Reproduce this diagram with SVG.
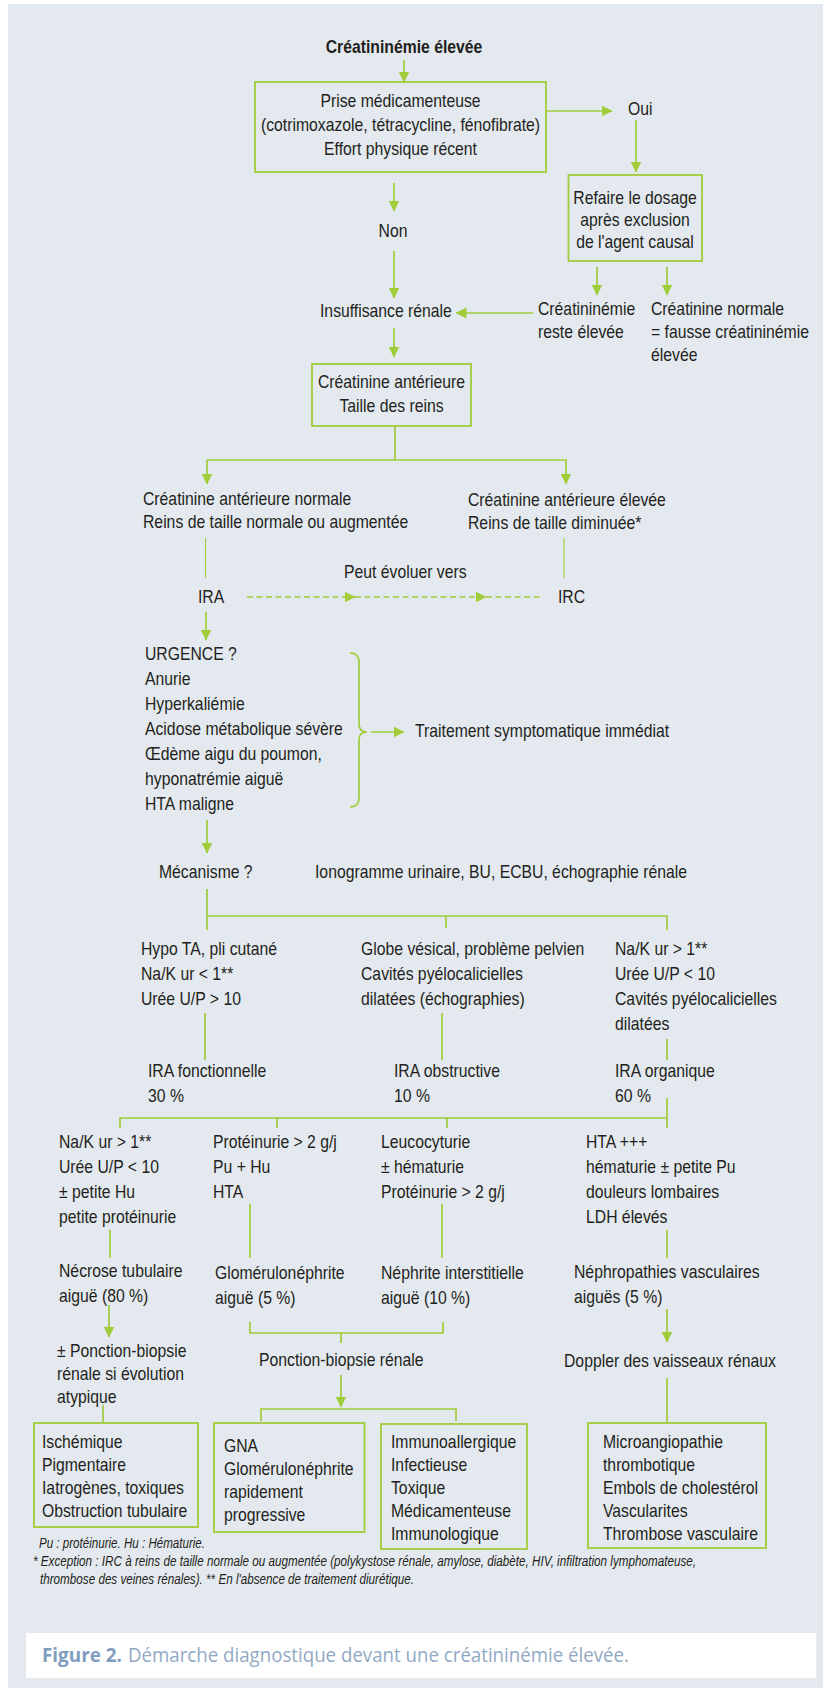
<svg xmlns="http://www.w3.org/2000/svg" width="823" height="1688" viewBox="0 0 823 1688">
<style>
.t{font-family:"Liberation Sans",Arial,sans-serif;font-size:18px;fill:#231f20}
.m{text-anchor:middle}
.b{font-weight:bold}
.fn{font-family:"Liberation Sans",Arial,sans-serif;font-size:14px;font-style:italic;fill:#231f20}
.box{fill:none;stroke:#a0cc3a;stroke-width:1.8}
.ln{fill:none;stroke:#a0cc3a;stroke-width:1.7}
.thin{fill:none;stroke:#a0cc3a;stroke-width:1.1}
.ar{fill:none;stroke:#a0cc3a;stroke-width:1.7;marker-end:url(#ah)}
.da{fill:none;stroke:#a0cc3a;stroke-width:1.5;stroke-dasharray:6 3.5}
.cap{font-family:"Open Sans","Liberation Sans",sans-serif;font-size:20px}
</style>
<defs>
<marker id="ah" viewBox="0 0 11 11" markerWidth="11" markerHeight="11" markerUnits="userSpaceOnUse" refX="10.5" refY="5.5" orient="auto">
<path d="M0,0 L11,5.5 L0,11 Z" fill="#a0cc3a"/>
</marker>
</defs>
<rect x="0" y="0" width="823" height="1688" fill="#ffffff"/>
<rect x="8" y="4" width="815" height="1684" fill="#e3e9ef"/>

<g id="connectors">
<path class="ar" d="M404,60 V82"/>
<path class="ar" d="M546,111 H612"/>
<path class="ar" d="M636,120 V172"/>
<path class="ar" d="M394,183 V211"/>
<path class="ar" d="M394,251 V298"/>
<path class="ar" d="M597,267 V295"/>
<path class="ar" d="M667,267 V295"/>
<path class="ar" d="M533,313 H456"/>
<path class="ar" d="M394,328 V357"/>
<path class="ln" d="M395,426 V460"/>
<path class="ar" d="M207,460 H566 V484"/>
<path class="ar" d="M207,460 V484"/>
<path class="thin" d="M205.5,538 V578"/>
<path class="thin" d="M564,538 V578"/>
<path class="da" d="M247,597 H355" marker-end="url(#ah)"/>
<path class="da" d="M355,597 H486" marker-end="url(#ah)"/>
<path class="da" d="M486,597 H543"/>
<path class="ar" d="M206,612 V640"/>
<path class="ln" d="M350,653 C356,653 359,656 359,662 L359,724 C359,729 362,732 367,732 C362,732 359,735 359,740 L359,798 C359,804 356,807 350,807"/>
<path class="ar" d="M371,732 H404"/>
<path class="ar" d="M207,820 V853"/>
<path class="ln" d="M207,889 V930 M207,916 H667 V930 M446,916 V928"/>
<path class="ln" d="M205,1013 V1060 M442,1013 V1060 M667,1039 V1060"/>
<path class="ln" d="M667,1098 V1128 M120,1128 V1118 H667 M277,1118 V1128 M447,1118 V1128"/>
<path class="ln" d="M110,1230 V1258 M250,1204 V1258 M442,1204 V1258 M667,1230 V1258"/>
<path class="ar" d="M109,1305 V1337"/>
<path class="ln" d="M103,1405 V1423"/>
<path class="ln" d="M250,1322 V1333 H443 V1322 M341,1333 V1343"/>
<path class="ar" d="M341,1375 V1407"/>
<path class="ln" d="M261,1421 V1409 H456 V1421"/>
<path class="ar" d="M667,1309 V1342"/>
<path class="ln" d="M667,1378 V1423"/>
</g>

<g id="n-title"><text class="t m b" transform="translate(404 53) scale(.875 1)">Créatininémie élevée</text></g>

<g id="n-prise">
<rect class="box" x="255" y="82" width="291" height="90"/>
<text class="t m" transform="translate(400.5 107) scale(.875 1)">Prise médicamenteuse<tspan x="0" dy="24">(cotrimoxazole, tétracycline, fénofibrate)</tspan><tspan x="0" dy="24">Effort physique récent</tspan></text>
</g>

<g id="n-oui"><text class="t" transform="translate(628 115) scale(.875 1)">Oui</text></g>

<g id="n-refaire">
<rect class="box" x="568.5" y="175" width="133.5" height="86"/>
<text class="t m" transform="translate(635 203.5) scale(.875 1)">Refaire le dosage<tspan x="0" dy="22.5">après exclusion</tspan><tspan x="0" dy="22.5">de l'agent causal</tspan></text>
</g>

<g id="n-non"><text class="t m" transform="translate(393 237) scale(.875 1)">Non</text></g>

<g id="n-insuffisance"><text class="t" transform="translate(320 317) scale(.875 1)">Insuffisance rénale</text></g>

<g id="n-reste"><text class="t" transform="translate(538 315) scale(.875 1)">Créatininémie<tspan x="0" dy="23">reste élevée</tspan></text></g>

<g id="n-normale"><text class="t" transform="translate(651 315) scale(.875 1)">Créatinine normale<tspan x="0" dy="23">= fausse créatininémie</tspan><tspan x="0" dy="23">élevée</tspan></text></g>

<g id="n-anterieure">
<rect class="box" x="312" y="364" width="159" height="62"/>
<text class="t m" transform="translate(391.5 388) scale(.875 1)">Créatinine antérieure<tspan x="0" dy="24">Taille des reins</tspan></text>
</g>

<g id="n-ant-normale"><text class="t" transform="translate(143 505) scale(.875 1)">Créatinine antérieure normale<tspan x="0" dy="23">Reins de taille normale ou augmentée</tspan></text></g>

<g id="n-ant-elevee"><text class="t" transform="translate(468 506) scale(.875 1)">Créatinine antérieure élevée<tspan x="0" dy="23">Reins de taille diminuée*</tspan></text></g>

<g id="n-peut"><text class="t" transform="translate(344 578) scale(.875 1)">Peut évoluer vers</text></g>
<g id="n-ira"><text class="t" transform="translate(198 603) scale(.875 1)">IRA</text></g>
<g id="n-irc"><text class="t" transform="translate(558 603) scale(.875 1)">IRC</text></g>

<g id="n-urgence"><text class="t" transform="translate(145 660) scale(.875 1)">URGENCE ?<tspan x="0" dy="25">Anurie</tspan><tspan x="0" dy="25">Hyperkaliémie</tspan><tspan x="0" dy="25">Acidose métabolique sévère</tspan><tspan x="0" dy="25">Œdème aigu du poumon,</tspan><tspan x="0" dy="25">hyponatrémie aiguë</tspan><tspan x="0" dy="25">HTA maligne</tspan></text></g>

<g id="n-traitement"><text class="t" transform="translate(415 737) scale(.875 1)">Traitement symptomatique immédiat</text></g>

<g id="n-mecanisme"><text class="t" transform="translate(159 878) scale(.875 1)">Mécanisme ?</text></g>
<g id="n-ionogramme"><text class="t" transform="translate(315 878) scale(.875 1)">Ionogramme urinaire, BU, ECBU, échographie rénale</text></g>

<g id="n-hypo"><text class="t" transform="translate(141 955) scale(.875 1)">Hypo TA, pli cutané<tspan x="0" dy="25">Na/K ur &lt; 1**</tspan><tspan x="0" dy="25">Urée U/P &gt; 10</tspan></text></g>
<g id="n-globe"><text class="t" transform="translate(361 955) scale(.875 1)">Globe vésical, problème pelvien<tspan x="0" dy="25">Cavités pyélocalicielles</tspan><tspan x="0" dy="25">dilatées (échographies)</tspan></text></g>
<g id="n-nak"><text class="t" transform="translate(615 955) scale(.875 1)">Na/K ur &gt; 1**<tspan x="0" dy="25">Urée U/P &lt; 10</tspan><tspan x="0" dy="25">Cavités pyélocalicielles</tspan><tspan x="0" dy="25">dilatées</tspan></text></g>

<g id="n-ira-fonc"><text class="t" transform="translate(148 1077) scale(.875 1)">IRA fonctionnelle<tspan x="0" dy="25">30 %</tspan></text></g>
<g id="n-ira-obs"><text class="t" transform="translate(394 1077) scale(.875 1)">IRA obstructive<tspan x="0" dy="25">10 %</tspan></text></g>
<g id="n-ira-org"><text class="t" transform="translate(615 1077) scale(.875 1)">IRA organique<tspan x="0" dy="25">60 %</tspan></text></g>

<g id="n-crit-ntA"><text class="t" transform="translate(59 1148) scale(.875 1)">Na/K ur &gt; 1**<tspan x="0" dy="25">Urée U/P &lt; 10</tspan><tspan x="0" dy="25">± petite Hu</tspan><tspan x="0" dy="25">petite protéinurie</tspan></text></g>
<g id="n-crit-gn"><text class="t" transform="translate(213 1148) scale(.875 1)">Protéinurie &gt; 2 g/j<tspan x="0" dy="25">Pu + Hu</tspan><tspan x="0" dy="25">HTA</tspan></text></g>
<g id="n-crit-ni"><text class="t" transform="translate(381 1148) scale(.875 1)">Leucocyturie<tspan x="0" dy="25">± hématurie</tspan><tspan x="0" dy="25">Protéinurie &gt; 2 g/j</tspan></text></g>
<g id="n-crit-vasc"><text class="t" transform="translate(586 1148) scale(.875 1)">HTA +++<tspan x="0" dy="25">hématurie ± petite Pu</tspan><tspan x="0" dy="25">douleurs lombaires</tspan><tspan x="0" dy="25">LDH élevés</tspan></text></g>

<g id="n-necrose"><text class="t" transform="translate(59 1277) scale(.875 1)">Nécrose tubulaire<tspan x="0" dy="25">aiguë (80 %)</tspan></text></g>
<g id="n-glomerulo"><text class="t" transform="translate(215 1279) scale(.875 1)">Glomérulonéphrite<tspan x="0" dy="25">aiguë (5 %)</tspan></text></g>
<g id="n-nephrite"><text class="t" transform="translate(381 1279) scale(.875 1)">Néphrite interstitielle<tspan x="0" dy="25">aiguë (10 %)</tspan></text></g>
<g id="n-nephropathies"><text class="t" transform="translate(574 1278) scale(.875 1)">Néphropathies vasculaires<tspan x="0" dy="25">aiguës (5 %)</tspan></text></g>

<g id="n-ponction-opt"><text class="t" transform="translate(57 1357) scale(.875 1)">± Ponction-biopsie<tspan x="0" dy="23">rénale si évolution</tspan><tspan x="0" dy="23">atypique</tspan></text></g>
<g id="n-ponction"><text class="t" transform="translate(259 1366) scale(.875 1)">Ponction-biopsie rénale</text></g>
<g id="n-doppler"><text class="t" transform="translate(564 1367) scale(.875 1)">Doppler des vaisseaux rénaux</text></g>

<g id="n-box-ischemique">
<rect class="box" x="34" y="1423" width="164" height="104"/>
<text class="t" transform="translate(42 1448) scale(.875 1)">Ischémique<tspan x="0" dy="23">Pigmentaire</tspan><tspan x="0" dy="23">Iatrogènes, toxiques</tspan><tspan x="0" dy="23">Obstruction tubulaire</tspan></text>
</g>
<g id="n-box-gna">
<rect class="box" x="214" y="1423" width="150.5" height="109"/>
<text class="t" transform="translate(224 1452) scale(.875 1)">GNA<tspan x="0" dy="23">Glomérulonéphrite</tspan><tspan x="0" dy="23">rapidement</tspan><tspan x="0" dy="23">progressive</tspan></text>
</g>
<g id="n-box-immuno">
<rect class="box" x="381" y="1424" width="146" height="125"/>
<text class="t" transform="translate(391 1448) scale(.875 1)">Immunoallergique<tspan x="0" dy="23">Infectieuse</tspan><tspan x="0" dy="23">Toxique</tspan><tspan x="0" dy="23">Médicamenteuse</tspan><tspan x="0" dy="23">Immunologique</tspan></text>
</g>
<g id="n-box-micro">
<rect class="box" x="588" y="1423" width="178" height="125"/>
<text class="t" transform="translate(603 1448) scale(.875 1)">Microangiopathie<tspan x="0" dy="23">thrombotique</tspan><tspan x="0" dy="23">Embols de cholestérol</tspan><tspan x="0" dy="23">Vascularites</tspan><tspan x="0" dy="23">Thrombose vasculaire</tspan></text>
</g>

<g id="footnotes">
<text class="fn" x="39" y="1548" textLength="166" lengthAdjust="spacingAndGlyphs">Pu : protéinurie. Hu : Hématurie.</text>
<text class="fn" x="33" y="1566" textLength="663" lengthAdjust="spacingAndGlyphs">* Exception : IRC à reins de taille normale ou augmentée (polykystose rénale, amylose, diabète, HIV, infiltration lymphomateuse,</text>
<text class="fn" x="40" y="1584" textLength="374" lengthAdjust="spacingAndGlyphs">thrombose des veines rénales). ** En l'absence de traitement diurétique.</text>
</g>

<g id="caption">
<rect x="26" y="1633" width="790" height="45" fill="#ffffff"/>
<text class="cap" x="42" y="1662" font-weight="bold" fill="#7f9dbe" textLength="80" lengthAdjust="spacingAndGlyphs">Figure 2.</text>
<text class="cap" x="128" y="1662" fill="#91a9c4" textLength="501" lengthAdjust="spacingAndGlyphs">Démarche diagnostique devant une créatininémie élevée.</text>
</g>
</svg>
